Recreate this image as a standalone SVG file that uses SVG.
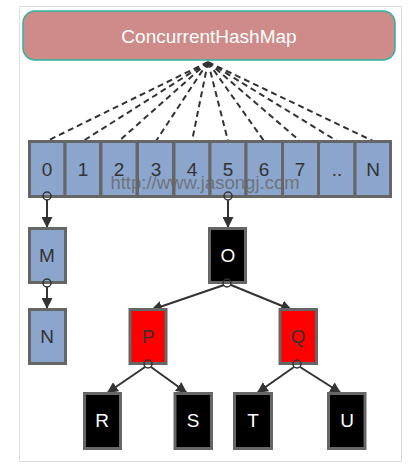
<svg xmlns="http://www.w3.org/2000/svg" width="411" height="469" viewBox="0 0 411 469">
<defs>
<style>
.cell{fill:#8ba5cc;stroke:#666;stroke-width:3}
.blk{fill:#000;stroke:#666;stroke-width:3}
.red{fill:#f00;stroke:#666;stroke-width:3}
.t{font-family:"Liberation Sans",Arial,sans-serif;font-size:19px;text-anchor:middle;fill:#333}
.w{fill:#fff}
.dash{stroke:#333;stroke-width:2;stroke-dasharray:6 4;fill:none}
.ln{stroke:#333;stroke-width:2;fill:none;marker-end:url(#ah)}
.dot{fill:none;stroke:#333;stroke-width:1.5}
</style>
<marker id="ah" viewBox="0 0 10 10" refX="10" refY="5" markerWidth="5.5" markerHeight="5.5" orient="auto" markerUnits="strokeWidth">
<path d="M0,0L10,5L0,10z" fill="#333"/>
</marker>
</defs>
<rect x="0" y="0" width="411" height="469" fill="#fff"/>
<rect x="19.5" y="6.5" width="382" height="455" fill="none" stroke="#ddd" stroke-width="1"/>
<g id="map">
<rect x="23" y="11" width="372" height="49" rx="12" fill="#ce8b89" stroke="#2bb5a0" stroke-width="1.5"/>
<text x="209" y="43" class="t w" style="font-size:19px">ConcurrentHashMap</text>
</g>
<g id="connectors">
<path class="dash" d="M208,62L47,141M208,62L83,141M208,62L119,141M208,62L156,141M208,62L192,141M208,62L228,141M208,62L264,141M208,62L300,141M208,62L337,141M208,62L373,141"/>
<path class="ln" d="M47,200L47,228"/>
<path class="ln" d="M47,287L47,309"/>
<path class="ln" d="M228,200L228,228"/>
<path class="ln" d="M224,285L151,310"/>
<path class="ln" d="M231,285L292,310"/>
<path class="ln" d="M145,367L107,393"/>
<path class="ln" d="M151,367L187,393"/>
<path class="ln" d="M294,367L257,393"/>
<path class="ln" d="M300,367L341,393"/>
</g>
<g id="array">
<rect class="cell" x="29.5" y="141.5" width="35.5" height="55"/><text class="t" x="47" y="176">0</text>
<rect class="cell" x="65" y="141.5" width="35.5" height="55"/><text class="t" x="83" y="176">1</text>
<rect class="cell" x="101" y="141.5" width="36" height="55"/><text class="t" x="119" y="176">2</text>
<rect class="cell" x="137.5" y="141.5" width="36" height="55"/><text class="t" x="156" y="176">3</text>
<rect class="cell" x="174" y="141.5" width="36" height="55"/><text class="t" x="192" y="176">4</text>
<rect class="cell" x="210" y="141.5" width="36" height="55"/><text class="t" x="228" y="176">5</text>
<rect class="cell" x="246" y="141.5" width="36.5" height="55"/><text class="t" x="264" y="176">6</text>
<rect class="cell" x="282.5" y="141.5" width="36" height="55"/><text class="t" x="300" y="176">7</text>
<rect class="cell" x="318.5" y="141.5" width="36.5" height="55"/><text class="t" x="337" y="176">..</text>
<rect class="cell" x="355" y="141.5" width="35.5" height="55"/><text class="t" x="373" y="176">N</text>
</g>
<text x="205" y="189" style="font-family:'Liberation Sans',Arial,sans-serif;font-size:18.5px;text-anchor:middle;fill:#666;fill-opacity:0.8">http://www.jasongj.com</text>
<g id="node-M"><rect class="cell" x="29.5" y="228.5" width="36" height="54"/><text class="t" x="47" y="262">M</text></g>
<g id="node-N"><rect class="cell" x="29.5" y="309.5" width="36" height="54"/><text class="t" x="47" y="343">N</text></g>
<g id="node-O"><rect class="blk" x="209.5" y="228.5" width="36" height="54"/><text class="t w" x="228" y="262">O</text></g>
<g id="node-P"><rect class="red" x="130" y="309.5" width="36" height="54"/><text class="t" x="148" y="343">P</text></g>
<g id="node-Q"><rect class="red" x="280" y="309.5" width="36.5" height="54"/><text class="t" x="298" y="343">Q</text></g>
<g id="node-R"><rect class="blk" x="84.5" y="393.5" width="36" height="55"/><text class="t w" x="102" y="427">R</text></g>
<g id="node-S"><rect class="blk" x="175" y="393.5" width="36.5" height="55"/><text class="t w" x="193" y="427">S</text></g>
<g id="node-T"><rect class="blk" x="234.5" y="393.5" width="37" height="55"/><text class="t w" x="253" y="427">T</text></g>
<g id="node-U"><rect class="blk" x="328.5" y="393.5" width="36.5" height="55"/><text class="t w" x="347" y="427">U</text></g>
<g id="dots">
<circle class="dot" cx="47" cy="196" r="4"/>
<circle class="dot" cx="228" cy="196" r="4"/>
<circle class="dot" cx="47" cy="283" r="4"/>
<circle class="dot" cx="227" cy="283" r="4"/>
<circle class="dot" cx="148" cy="364" r="4"/>
<circle class="dot" cx="297" cy="364" r="4"/>
</g>
</svg>
